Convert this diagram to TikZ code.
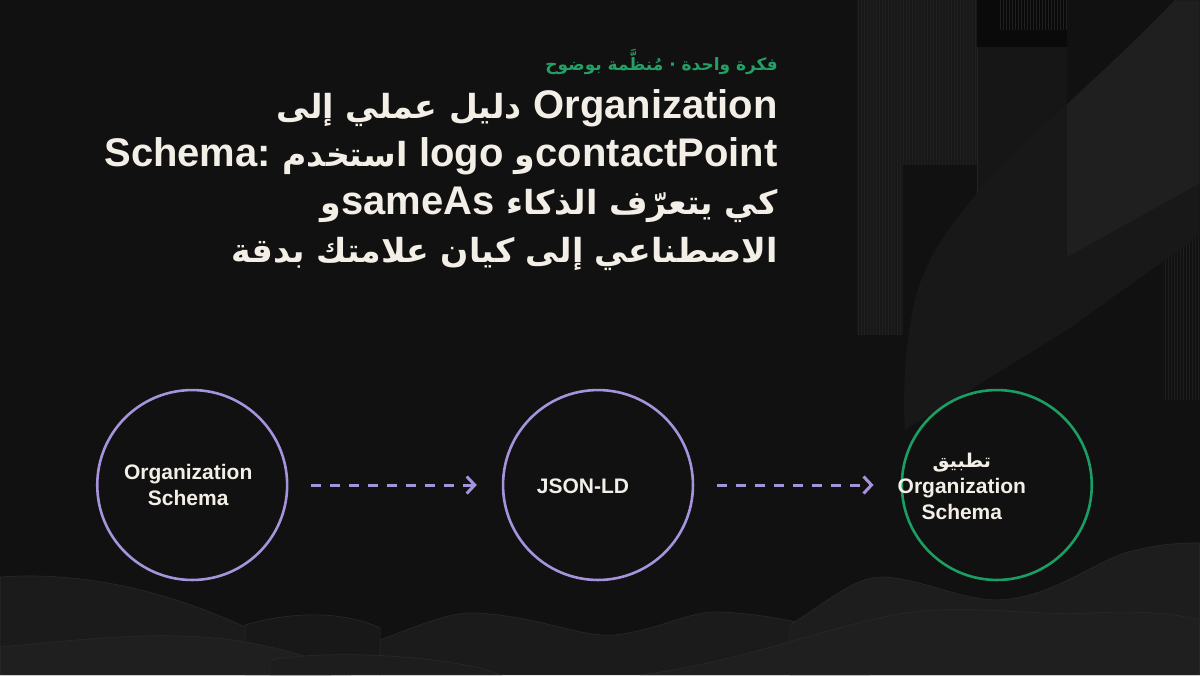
\documentclass[tikz,border=0pt]{standalone}
\usepackage{fontspec}
\setmainfont{Liberation Sans}
\newfontfamily\arabicfont[Script=Arabic]{DejaVu Sans}
\newfontfamily\arabictitle[Script=Arabic, Scale=0.83]{DejaVu Sans}
\usepackage{xcolor}
\usepackage{tikz}
\usetikzlibrary{arrows.meta, positioning}
\TeXXeTstate=1

\definecolor{bg}{HTML}{111111}
\definecolor{lavender}{HTML}{A593DC}
\definecolor{mint}{HTML}{1A9E64}
\definecolor{cream}{HTML}{F3EFE7}
\definecolor{kickergreen}{HTML}{22A066}
\newcommand{\lat}[1]{\beginL{\rmfamily #1}\endL}

\begin{document}
\begin{tikzpicture}[x=1pt, y=-1pt,
        stage/.style={draw=lavender, line width=2.6pt, circle, minimum size=190pt, inner sep=0pt},
        goal/.style={stage, draw=mint},
        flow/.style={-{Straight Barb[length=8pt, width=17pt]}, draw=lavender, line width=3pt, dash pattern=on 10pt off 9pt, shorten <=23pt, shorten >=25pt},
        title/.style={anchor=base east, text=cream, inner sep=0pt, font=\fontsize{40}{48}\selectfont\bfseries\arabictitle},
        caption/.style={text=cream, align=center, inner sep=0pt, font=\fontsize{21}{26}\selectfont\bfseries},
        stripe/.style={draw=white!6!bg, line width=0.5pt},
        wave/.style={fill=#1, draw=white!10!bg, line width=0.6pt}
      ]
        % Background
        \fill[bg] (0,0) rectangle (1200,675);

        % Stripes on the right
        \fill[white!3!bg] (857,0) rectangle (977,165);
        \fill[white!3!bg] (857,165) rectangle (903,335);
        \foreach \x in {858,861,...,976} {
            \draw[stripe] (\x,0) -- (\x,165);
        }
        \foreach \x in {858,861,...,902} {
            \draw[stripe] (\x,165) -- (\x,335);
        }
        \fill[black!40!bg] (977,0) rectangle (1067,47);
        \foreach \x in {1000,1003,...,1066} {
            \draw[stripe] (\x,0) -- (\x,30);
        }
        \fill[white!2!bg] (977,47) rectangle (1067,330);
        \draw[white!8!bg, line width=0.8pt] (978,47) -- (978,330);
        \foreach \x in {1166,1169,...,1199} {
            \draw[stripe] (\x,185) -- (\x,400);
        }

        % Swoosh
        \fill[white!3!bg] (1175,0) .. controls (1060,120) and (940,200) .. (915,300) .. controls (905,345) and (903,390) .. (905,430) -- (1067,330) -- (1200,235) -- (1200,0) -- cycle;
        \begin{scope}
            \clip (1175,0) .. controls (1060,120) and (940,200) .. (915,300) .. controls (905,345) and (903,390) .. (905,430) -- (1067,330) -- (1200,235) -- (1200,0) -- cycle;
            \fill[white!6!bg] (1067,0) -- (1200,0) -- (1200,183) -- (1067,257) -- cycle;
        \end{scope}

        % Waves
        \fill[wave=white!4!bg] (0,577) .. controls (100,570) and (200,600) .. (290,650) .. controls (310,662) and (320,670) .. (330,675) -- (0,675) -- cycle;
        \fill[wave=white!3!bg] (245,625) .. controls (290,612) and (340,610) .. (380,628) -- (380,675) -- (245,675) -- cycle;
        \fill[wave=white!4!bg] (380,640) .. controls (420,625) and (450,612) .. (474,613) .. controls (540,616) and (580,638) .. (615,635) .. controls (660,630) and (690,610) .. (722,612) .. controls (780,615) and (830,630) .. (870,640) -- (870,675) -- (380,675) -- cycle;
        \fill[wave=white!5!bg] (790,625) .. controls (830,600) and (855,577) .. (882,577) .. controls (920,578) and (960,600) .. (998,600) .. controls (1050,598) and (1090,565) .. (1125,553) .. controls (1160,543) and (1185,543) .. (1200,543) -- (1200,675) -- (790,675) -- cycle;
        \fill[wave=white!6!bg] (0,647) .. controls (80,640) and (170,628) .. (250,643) .. controls (300,652) and (330,665) .. (350,675) -- (0,675) -- cycle;
        \fill[wave=white!5!bg] (270,660) .. controls (330,650) and (420,655) .. (480,668) -- (500,675) -- (270,675) -- cycle;
        \fill[wave=white!6!bg] (640,675) .. controls (760,660) and (860,612) .. (938,610) .. controls (1000,608) and (1050,616) .. (1090,613) .. controls (1150,610) and (1180,615) .. (1200,620) -- (1200,675) -- cycle;

        % Kicker and title
        \node[anchor=base east, text=kickergreen, inner sep=0pt, font=\fontsize{17}{20}\selectfont\bfseries\arabicfont] (kicker) at (778,70) {\beginR فكرة واحدة · مُنظَّمة بوضوح\endR};
        \node[title] (title1) at (778,118) {\beginR\lat{Organization} دليل عملي إلى\endR};
        \node[title] (title2) at (778,166) {\beginR\lat{contactPoint}و \lat{logo} استخدم \lat{Schema:}\endR};
        \node[title] (title3) at (778,214) {\beginR كي يتعرّف الذكاء \lat{sameAs}و\endR};
        \node[title] (title4) at (778,262) {\beginR الاصطناعي إلى كيان علامتك بدقة\endR};

        % Stages
        \node[stage] (schema) at (192,485) {};
        \node[stage] (jsonld) at (598,485) {};
        \node[goal] (apply) at (997,485) {};

        \node[caption] (schemaText) at (188,485) {Organization\\Schema};
        \node[caption] (jsonldText) at (583,486) {JSON-LD};
        \node[caption] (applyText) at (962,486) {{\arabicfont\fontsize{19}{26}\selectfont\beginR تطبيق\endR}\\Organization\\Schema};

        \draw[flow] (schema) -- (jsonld);
        \draw[flow, shorten >=27pt] (jsonld) -- (apply);

    \end{tikzpicture}
\end{document}
